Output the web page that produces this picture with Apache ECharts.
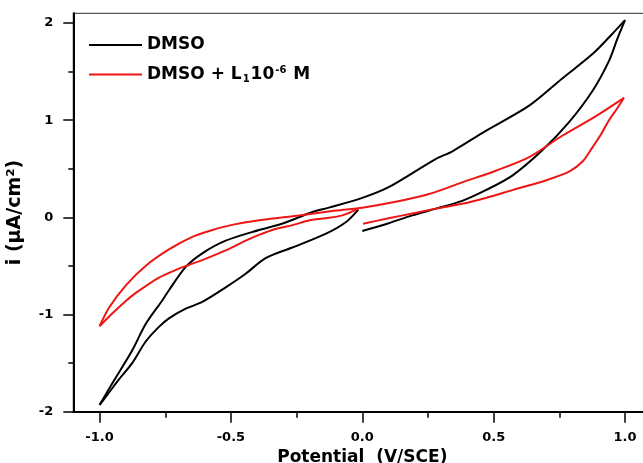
<!DOCTYPE html>
<html>
<head>
<meta charset="utf-8">
<script src="https://cdn.jsdelivr.net/npm/echarts@6/dist/echarts.min.js"></script>
<style>html,body{margin:0;padding:0;background:#fff}#c{width:643px;height:463px}</style>
</head>
<body>
<div id="c"></div>
<script>
// Potential (V/SCE) , current (µA/cm2)
var blackForward = [[0.0,-0.14],[0.1,-0.06],[0.19,0.02],[0.28,0.09],[0.38,0.17],[0.47,0.28],[0.571,0.43],[0.685,0.69],[0.787,0.98],[0.876,1.3],[0.939,1.61],[0.971,1.84],[1.0,2.03]];
var blackReverse = [[1.0,2.03],[0.952,1.89],[0.876,1.68],[0.761,1.43],[0.635,1.15],[0.47,0.89],[0.343,0.68],[0.279,0.6],[0.1,0.31],[0.0,0.2],[-0.127,0.1],[-0.19,0.055],[-0.3,-0.06],[-0.393,-0.13],[-0.52,-0.24],[-0.609,-0.37],[-0.672,-0.51],[-0.736,-0.75],[-0.76,-0.85],[-0.825,-1.1],[-0.876,-1.37],[-0.952,-1.71],[-1.0,-1.93]];
var blackReturn = [[-1.0,-1.93],[-0.977,-1.85],[-0.93,-1.68],[-0.876,-1.5],[-0.825,-1.28],[-0.775,-1.13],[-0.736,-1.04],[-0.672,-0.94],[-0.609,-0.87],[-0.52,-0.72],[-0.444,-0.58],[-0.368,-0.42],[-0.266,-0.31],[-0.14,-0.17],[-0.063,-0.05],[-0.015,0.08]];
var redForward = [[0.003,-0.065],[0.1,-0.01],[0.19,0.04],[0.28,0.09],[0.38,0.14],[0.47,0.2],[0.571,0.28],[0.698,0.38],[0.787,0.47],[0.84,0.58],[0.876,0.72],[0.91,0.86],[0.939,1.0],[0.97,1.12],[0.996,1.23]];
var redReverse = [[0.996,1.23],[0.888,1.04],[0.761,0.84],[0.635,0.62],[0.508,0.48],[0.38,0.36],[0.254,0.24],[0.127,0.16],[0.0,0.1],[-0.1,0.07],[-0.241,0.02],[-0.393,-0.03],[-0.5,-0.08],[-0.57,-0.13],[-0.647,-0.2],[-0.736,-0.33],[-0.825,-0.5],[-0.9,-0.7],[-0.964,-0.93],[-1.0,-1.12]];
var redReturn = [[-1.0,-1.12],[-0.952,-0.99],[-0.9,-0.86],[-0.863,-0.78],[-0.774,-0.62],[-0.7,-0.53],[-0.66,-0.49],[-0.6,-0.43],[-0.52,-0.34],[-0.444,-0.24],[-0.393,-0.18],[-0.33,-0.12],[-0.266,-0.08],[-0.2,-0.03],[-0.14,-0.01],[-0.076,0.02],[-0.015,0.09]];

var seriesNames = ['DMSO', 'DMSO + L1 10-6 M'];
var xMajorTicks = [-1.0, -0.5, 0.0, 0.5, 1.0];
var xMinorTicks = [-0.75, -0.25, 0.25, 0.75];
var yMajorTicks = [-2, -1, 0, 1, 2];
var yMinorTicks = [-1.5, -0.5, 0.5, 1.5];

var FONT = 'DejaVu Sans';
var BLACK = '#000000', RED = '#ee1515';

function mk(name, data, color) {
  return {
    type: 'line', name: name, data: data, xAxisIndex: 0, yAxisIndex: 0,
    smooth: 0.3, showSymbol: false, symbol: 'none',
    lineStyle: { color: color, width: 2 }, itemStyle: { color: color }
  };
}

var chart = echarts.init(document.getElementById('c'), null, { renderer: 'canvas' });
chart.setOption({
  animation: false,
  backgroundColor: '#fff',
  grid: { left: 73.3, top: 13.3, width: 578, height: 398.4, show: true, borderColor: '#555', borderWidth: 1.2,
    containLabel: false, outerBoundsMode: 'none' },
  legend: {
    data: seriesNames, orient: 'vertical', left: 89, top: 36.5, itemGap: 11, padding: 0,
    icon: 'rect', itemWidth: 53, itemHeight: 2,
    formatter: function (n) {
      if (n === seriesNames[1]) return '{b|DMSO + L}{sub|1}{b|10}{sup|-6}{b| M}';
      return '{b|' + n + '}';
    },
    textStyle: {
      fontFamily: FONT, fontWeight: 'bold', fontSize: 17, color: '#000',
      rich: {
        b: { fontFamily: FONT, fontWeight: 'bold', fontSize: 17, lineHeight: 19, color: '#000' },
        sub: { fontFamily: FONT, fontWeight: 'bold', fontSize: 10, lineHeight: 19, color: '#000', padding: [10, 1, 0, 1] },
        sup: { fontFamily: FONT, fontWeight: 'bold', fontSize: 10, lineHeight: 19, color: '#000', padding: [0, 1, 8, 1] }
      }
    }
  },
  xAxis: [{
    type: 'value', min: -1.1, max: 1.1, position: 'bottom',
    name: 'Potential  (V/SCE)', nameLocation: 'middle', nameGap: 29,
    nameTextStyle: { fontFamily: FONT, fontWeight: 'bold', fontSize: 17, color: '#000' },
    axisLine: { show: true, onZero: false, lineStyle: { color: '#000', width: 2 } },
    axisTick: { show: true, inside: false, length: 11, customValues: xMajorTicks, lineStyle: { color: '#000', width: 1.5 } },
    axisLabel: { show: true, customValues: xMajorTicks, margin: 19, fontFamily: FONT, fontWeight: 'bold', fontSize: 13, color: '#000',
      formatter: function (v) { return v.toFixed(1); } },
    splitLine: { show: false }
  }, {
    type: 'value', min: -1.1, max: 1.1, position: 'bottom',
    axisLine: { show: false, onZero: false },
    axisTick: { show: true, inside: false, length: 6, customValues: xMinorTicks, lineStyle: { color: '#000', width: 1.5 } },
    axisLabel: { show: false }, splitLine: { show: false }
  }],
  yAxis: [{
    type: 'value', min: -2, max: 2.1, position: 'left',
    name: 'i (µA/cm²)', nameLocation: 'middle', nameGap: 49,
    nameTextStyle: { fontFamily: FONT, fontWeight: 'bold', fontSize: 19, color: '#000' },
    axisLine: { show: true, onZero: false, lineStyle: { color: '#000', width: 2 } },
    axisTick: { show: true, inside: false, length: 10, customValues: yMajorTicks, lineStyle: { color: '#000', width: 1.5 } },
    axisLabel: { show: true, customValues: yMajorTicks, margin: 20, fontFamily: FONT, fontWeight: 'bold', fontSize: 13, color: '#000',
      formatter: function (v) { return String(Math.round(v)); } },
    splitLine: { show: false }
  }, {
    type: 'value', min: -2, max: 2.1, position: 'left',
    axisLine: { show: false, onZero: false },
    axisTick: { show: true, inside: false, length: 5, customValues: yMinorTicks, lineStyle: { color: '#000', width: 1.5 } },
    axisLabel: { show: false }, splitLine: { show: false }
  }],
  series: [
    mk(seriesNames[0], blackForward, BLACK),
    mk(seriesNames[0], blackReverse, BLACK),
    mk(seriesNames[0], blackReturn, BLACK),
    mk(seriesNames[1], redForward, RED),
    mk(seriesNames[1], redReverse, RED),
    mk(seriesNames[1], redReturn, RED)
  ]
});
</script>
</body>
</html>
